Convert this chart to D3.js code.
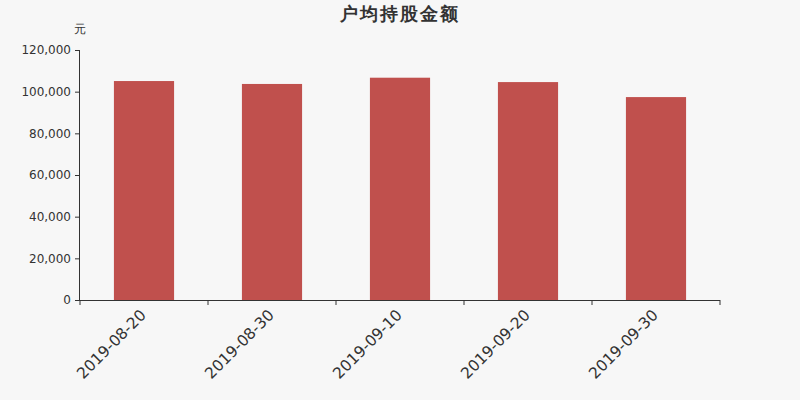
<!DOCTYPE html>
<html><head><meta charset="utf-8">
<script src="https://cdn.jsdelivr.net/npm/d3@7"></script>
<style>body{margin:0;background:#f7f7f7;}svg{display:block;font-family:"DejaVu Sans",sans-serif;}</style>
</head><body>
<svg id="c" width="800" height="400"></svg>
<script>
const categories = ["2019-08-20","2019-08-30","2019-09-10","2019-09-20","2019-09-30"];
const values = [105100, 103700, 106700, 104600, 97400];
const yTicks = [0,20000,40000,60000,80000,100000,120000];
const title = "户均持股金额";
const unit = "元";

const svg = d3.select("#c");
svg.append("rect").attr("width",800).attr("height",400).attr("fill","#f7f7f7");
const m = {left:80, right:80, top:50, bottom:100};
const W = 800, H = 400;
const x = d3.scaleBand().domain(categories).range([m.left, W-m.right]).paddingInner(0).paddingOuter(0);
const y = d3.scaleLinear().domain([0,120000]).range([H-m.bottom, m.top]);
const barW = x.bandwidth()*0.47;

svg.append("text").attr("x",400).attr("y",20).attr("text-anchor","middle")
  .attr("font-size",18).attr("letter-spacing",2).attr("font-weight","bold").attr("fill","#333").text(title);
svg.append("text").attr("x",80).attr("y",33).attr("text-anchor","middle")
  .attr("font-size",12).attr("fill","#333").text(unit);

svg.selectAll("rect.bar").data(values).join("rect").attr("class","bar")
  .attr("x",(d,i)=>x(categories[i])+x.bandwidth()/2-barW/2)
  .attr("width",barW)
  .attr("y",d=>y(d)).attr("height",d=>y(0)-y(d))
  .attr("fill","#c0504d");

const ya = svg.append("g").attr("transform",`translate(${m.left},0)`)
  .call(d3.axisLeft(y).tickValues(yTicks).tickSize(5).tickPadding(4).tickFormat(d3.format(",")));
ya.select(".domain").attr("stroke","#333").attr("d",`M-0.5,${y(120000)}V${y(0)}`);
ya.selectAll(".tick line").attr("stroke","#333");
ya.selectAll("text").attr("font-size",12).attr("fill","#333").attr("font-family","DejaVu Sans");

const xa = svg.append("g").attr("transform",`translate(0,${H-m.bottom})`);
xa.append("line").attr("x1",m.left).attr("x2",W-m.right).attr("y1",0.5).attr("y2",0.5).attr("stroke","#333");
const bounds = categories.map(c=>x(c)).concat([x(categories[categories.length-1])+x.bandwidth()]);
xa.selectAll("line.t").data(bounds).join("line").attr("class","t")
  .attr("x1",d=>d).attr("x2",d=>d).attr("y1",0).attr("y2",5).attr("stroke","#333");
xa.selectAll("text").data(categories).join("text")
  .attr("transform",d=>`translate(${x(d)+x.bandwidth()/2+3},${16}) rotate(-45)`)
  .attr("text-anchor","end").attr("font-size",15.5).attr("fill","#333").text(d=>d);
</script>
</body></html>
